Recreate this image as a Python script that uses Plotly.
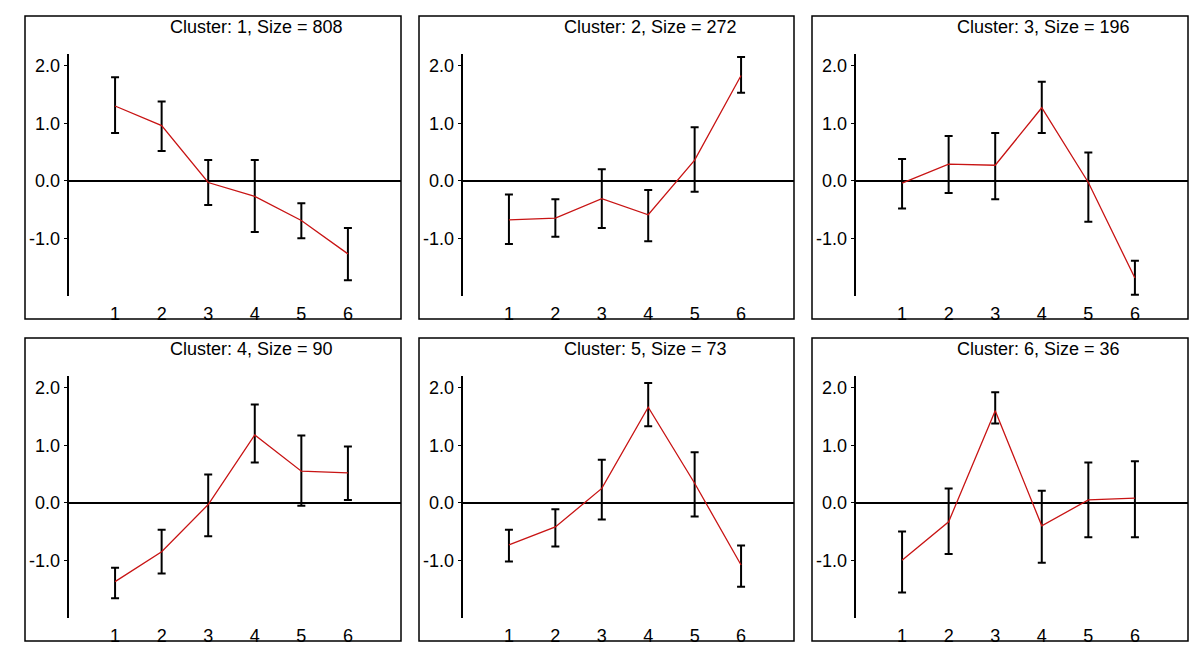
import plotly.graph_objects as go

# ---- data ----
variables = [1, 2, 3, 4, 5, 6]
x_tick_labels = ["1", "2", "3", "4", "5", "6"]
y_tick_vals = [-1.0, 0.0, 1.0, 2.0]
y_tick_labels = ["-1.0", "0.0", "1.0", "2.0"]

cluster_ids = [1, 2, 3, 4, 5, 6]
cluster_sizes = [808, 272, 196, 90, 73, 36]

means_c1 = [1.30, 0.96, -0.03, -0.27, -0.69, -1.27]
upper_c1 = [1.80, 1.38, 0.36, 0.36, -0.39, -0.82]
lower_c1 = [0.83, 0.52, -0.42, -0.89, -1.00, -1.73]

means_c2 = [-0.68, -0.65, -0.31, -0.59, 0.36, 1.83]
upper_c2 = [-0.24, -0.32, 0.20, -0.16, 0.93, 2.15]
lower_c2 = [-1.10, -0.97, -0.82, -1.05, -0.19, 1.53]

means_c3 = [-0.04, 0.29, 0.27, 1.27, -0.03, -1.69]
upper_c3 = [0.38, 0.78, 0.83, 1.72, 0.49, -1.39]
lower_c3 = [-0.48, -0.21, -0.32, 0.83, -0.71, -1.98]

means_c4 = [-1.37, -0.85, -0.03, 1.18, 0.55, 0.52]
upper_c4 = [-1.13, -0.47, 0.49, 1.71, 1.17, 0.98]
lower_c4 = [-1.66, -1.23, -0.58, 0.70, -0.05, 0.05]

means_c5 = [-0.73, -0.42, 0.25, 1.66, 0.34, -1.08]
upper_c5 = [-0.47, -0.11, 0.75, 2.08, 0.88, -0.74]
lower_c5 = [-1.02, -0.76, -0.29, 1.33, -0.24, -1.46]

means_c6 = [-1.00, -0.33, 1.60, -0.40, 0.05, 0.08]
upper_c6 = [-0.50, 0.25, 1.92, 0.21, 0.70, 0.72]
lower_c6 = [-1.56, -0.89, 1.38, -1.04, -0.60, -0.60]

means = [means_c1, means_c2, means_c3, means_c4, means_c5, means_c6]
uppers = [upper_c1, upper_c2, upper_c3, upper_c4, upper_c5, upper_c6]
lowers = [lower_c1, lower_c2, lower_c3, lower_c4, lower_c5, lower_c6]

# ---- layout geometry (pixels) ----
W, H = 1200, 651
box_left = [25, 419, 812]
box_right = [401, 794, 1188]
box_top = [16, 338]
box_bottom = [319, 641]

FONT = "Liberation Sans, Arial, Helvetica, sans-serif"
FS = 18

fig = go.Figure()
shapes = []
annotations = []

for i, cid in enumerate(cluster_ids):
    r, c = divmod(i, 3)
    L, R, T, B = box_left[c], box_right[c], box_top[r], box_bottom[r]
    n = i + 1
    xa = "x" if n == 1 else f"x{n}"
    ya = "y" if n == 1 else f"y{n}"
    xk = "xaxis" if n == 1 else f"xaxis{n}"
    yk = "yaxis" if n == 1 else f"yaxis{n}"

    m = means[i]
    up = [u - v for u, v in zip(uppers[i], m)]
    dn = [v - l for v, l in zip(m, lowers[i])]

    fig.add_trace(go.Scatter(
        x=variables, y=m, mode="lines",
        line=dict(color="#c81414", width=1.3),
        error_y=dict(type="data", symmetric=False, array=up, arrayminus=dn,
                     color="black", thickness=2, width=4),
        xaxis=xa, yaxis=ya, showlegend=False, hoverinfo="skip",
    ))

    fig.layout[xk] = dict(
        domain=[(L + 43.5) / W, R / W], range=[0, 7.14],
        showgrid=False, zeroline=False, showline=False,
        tickvals=variables, ticktext=x_tick_labels,
        ticks="outside", ticklen=1, tickcolor="rgba(0,0,0,0)",
        tickfont=dict(family=FONT, size=FS, color="black"),
        anchor=ya, fixedrange=True,
    )
    fig.layout[yk] = dict(
        domain=[1 - (T + 279.9) / H, 1 - (T + 38.2) / H], range=[-2.0, 2.2],
        showgrid=False, zeroline=True, zerolinecolor="black", zerolinewidth=1.5,
        showline=True, linecolor="black", linewidth=1.5,
        tickvals=y_tick_vals, ticktext=y_tick_labels,
        ticks="outside", ticklen=3, tickcolor="black", tickwidth=1,
        tickfont=dict(family=FONT, size=FS, color="black"),
        anchor=xa, fixedrange=True,
    )

    shapes.append(dict(type="rect", xref="paper", yref="paper",
                       x0=L / W, x1=R / W, y0=1 - B / H, y1=1 - T / H,
                       line=dict(color="black", width=1.5), layer="above"))
    annotations.append(dict(
        xref="paper", yref="paper", x=(L + 143) / W, y=1 - (T + 11) / H,
        xanchor="left", yanchor="middle", showarrow=False,
        text=f"Cluster: {cid}, Size = {cluster_sizes[i]}",
        font=dict(family=FONT, size=FS, color="black"),
    ))

fig.update_layout(
    width=W, height=H, margin=dict(l=0, r=0, t=0, b=0, pad=0),
    paper_bgcolor="white", plot_bgcolor="white",
    shapes=shapes, annotations=annotations, showlegend=False,
)

fig.write_html("out.html", config={"displayModeBar": False},
               post_script="document.body.style.margin='0';")
